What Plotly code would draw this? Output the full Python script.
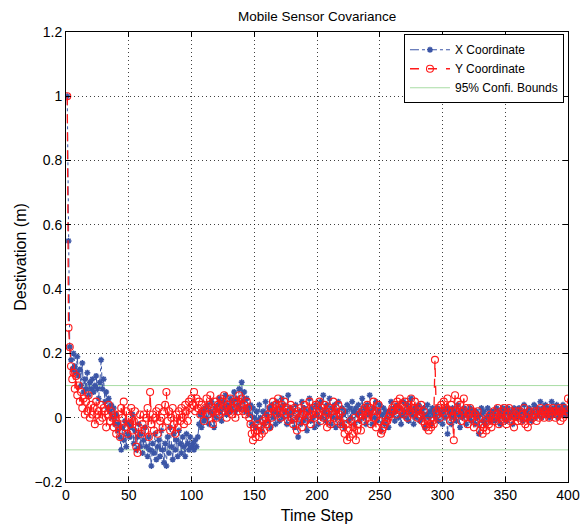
import plotly.graph_objects as go

time_steps = list(range(1, 401))

x_coord = [
    1.00, 0.55, 0.22, 0.18, 0.15, 0.20, 0.16, 0.14, 0.19, 0.13, 0.15, 0.10, 0.17, 0.08, 0.12, 0.09, 0.14, 0.07, 0.11, 0.09,
    0.12, 0.08, 0.10, 0.13, 0.09, 0.06, 0.11, 0.18, 0.09, 0.12, 0.05, 0.08, 0.03, 0.06, 0.02, 0.04, 0.00, 0.03, -0.02, 0.01,
    -0.04, -0.02, -0.06, -0.10, -0.03, -0.07, -0.01, -0.09, -0.05, -0.02, -0.06, -0.03, 0.01, -0.08, -0.04, -0.10, -0.06, -0.02, -0.09, -0.05,
    -0.11, -0.07, -0.03, -0.09, -0.12, -0.06, -0.10, -0.15, -0.08, -0.11, -0.05, -0.13, -0.09, -0.07, -0.12, -0.04, -0.10, -0.14, -0.08, -0.15,
    -0.06, -0.11, -0.03, -0.09, -0.13, -0.05, -0.10, -0.07, -0.12, -0.04, -0.08, -0.11, -0.06, -0.09, -0.12, -0.05, -0.08, -0.10, -0.06, -0.09,
    -0.08, -0.10, -0.07, -0.09, -0.06, -0.02, 0.01, -0.03, 0.02, -0.01, 0.03, 0.00, 0.04, -0.02, 0.02, 0.05, 0.01, -0.03, 0.03, 0.00,
    0.04, 0.06, 0.02, -0.01, 0.05, 0.03, 0.07, 0.01, 0.04, 0.02, 0.06, 0.03, 0.05, 0.08, 0.02, 0.06, 0.04, 0.09, 0.03, 0.11,
    0.05, 0.08, 0.02, 0.06, 0.03, 0.01, 0.04, -0.02, 0.03, 0.00, -0.03, 0.02, -0.01, 0.04, 0.00, -0.04, 0.02, -0.02, 0.05, 0.01,
    -0.01, 0.03, -0.03, 0.04, 0.00, 0.02, -0.02, 0.05, 0.01, -0.01, 0.03, 0.06, 0.00, 0.04, 0.02, -0.02, 0.07, 0.01, 0.03, -0.01,
    0.02, -0.03, 0.04, 0.00, -0.06, 0.02, -0.02, 0.05, -0.01, 0.03, 0.00, -0.04, 0.02, 0.06, -0.01, 0.03, 0.00, -0.03, 0.04, 0.01,
    -0.02, 0.03, 0.05, 0.00, 0.07, 0.02, -0.01, 0.04, 0.01, 0.06, -0.02, 0.03, 0.00, 0.04, -0.03, 0.02, 0.05, 0.00, -0.02, 0.03,
    0.01, -0.03, 0.02, 0.04, -0.01, 0.03, 0.00, 0.05, 0.02, -0.02, 0.03, 0.01, 0.04, -0.01, 0.02, 0.06, 0.00, 0.03, -0.02, 0.04,
    0.01, 0.07, 0.02, -0.02, 0.03, 0.00, 0.05, -0.01, 0.02, 0.04, -0.04, 0.01, 0.03, -0.02, 0.02, 0.00, -0.03, 0.02, 0.05, 0.01,
    0.03, -0.01, 0.02, 0.04, 0.00, 0.03, -0.02, 0.01, 0.05, 0.02, 0.00, 0.04, -0.01, 0.02, 0.06, 0.01, -0.02, 0.03, 0.00, 0.02,
    0.04, -0.01, 0.02, 0.00, 0.03, -0.03, 0.01, 0.04, 0.00, 0.02, -0.02, 0.03, 0.01, 0.02, 0.00, 0.03, -0.01, 0.02, 0.01, -0.02,
    0.02, 0.00, 0.03, -0.05, 0.02, 0.01, -0.02, 0.03, 0.00, 0.02, -0.01, 0.04, 0.01, -0.03, 0.02, 0.00, 0.03, 0.01, -0.02, 0.02,
    0.00, 0.03, -0.01, 0.02, 0.01, -0.02, 0.02, 0.00, -0.05, 0.01, 0.03, -0.01, 0.02, -0.02, 0.00, 0.03, 0.01, -0.01, 0.02, 0.00,
    0.02, -0.01, 0.03, 0.00, 0.02, -0.02, 0.01, 0.03, 0.00, 0.02, -0.01, 0.03, 0.01, 0.00, 0.02, -0.02, 0.03, 0.01, 0.00, 0.02,
    0.03, 0.00, 0.02, -0.01, 0.04, 0.01, 0.02, 0.00, 0.03, 0.01, -0.01, 0.02, 0.04, 0.00, 0.03, 0.01, 0.02, 0.05, 0.00, 0.03,
    0.02, 0.04, 0.01, 0.03, 0.00, 0.02, 0.05, 0.01, 0.03, 0.02, 0.04, 0.00, 0.03, 0.01, 0.02, 0.04, 0.01, 0.03, 0.02, 0.01,
]

y_coord = [
    1.00, 0.28, 0.22, 0.16, 0.12, 0.14, 0.09, 0.13, 0.07, 0.10, 0.05, 0.08, 0.03, 0.06, 0.01, 0.05, 0.02, 0.07, 0.00, 0.04,
    0.01, 0.03, -0.02, 0.05, 0.01, 0.02, -0.01, 0.04, 0.00, 0.03, 0.02, -0.03, 0.01, 0.04, -0.01, 0.02, 0.00, -0.03, 0.01, -0.05,
    -0.02, 0.01, -0.06, 0.03, 0.00, 0.05, -0.03, 0.02, -0.05, 0.00, -0.02, 0.03, -0.04, -0.01, 0.02, -0.09, -0.11, -0.03, 0.01, -0.05,
    -0.02, 0.01, -0.04, 0.00, 0.03, -0.06, 0.08, -0.02, 0.01, -0.04, 0.00, 0.02, -0.05, 0.03, -0.01, 0.00, -0.03, 0.02, 0.04, 0.08,
    -0.01, 0.02, -0.04, 0.00, 0.03, -0.02, -0.05, 0.01, -0.03, 0.02, -0.01, 0.03, 0.00, -0.02, 0.04, 0.02, -0.01, 0.05, 0.03, 0.06,
    0.04, 0.08, 0.02, 0.06, 0.03, 0.05, 0.01, 0.04, 0.02, -0.01, 0.03, 0.06, 0.01, 0.04, 0.07, 0.02, -0.02, 0.03, 0.05, 0.00,
    0.04, 0.01, 0.06, 0.02, 0.05, 0.07, 0.03, 0.00, 0.04, 0.02, 0.06, 0.01, 0.03, 0.05, 0.00, 0.04, 0.02, 0.07, 0.03, 0.06,
    0.02, 0.04, 0.01, 0.05, 0.03, 0.00, -0.02, -0.05, -0.07, -0.03, -0.06, -0.04, -0.02, -0.06, -0.03, -0.05, -0.01, -0.04, 0.00, -0.02,
    0.01, -0.03, 0.03, 0.00, 0.05, 0.02, 0.04, 0.01, 0.06, 0.03, 0.00, 0.04, 0.02, 0.05, 0.01, 0.03, -0.01, 0.02, 0.04, 0.00,
    -0.02, 0.03, 0.01, -0.04, 0.02, 0.00, 0.03, -0.03, 0.01, 0.04, -0.01, 0.02, 0.00, 0.05, -0.02, 0.01, 0.03, 0.00, 0.04, 0.02,
    0.01, 0.05, -0.01, 0.03, 0.00, 0.04, 0.02, -0.03, 0.01, 0.03, -0.02, 0.02, 0.05, 0.00, 0.03, -0.01, 0.04, 0.01, -0.02, 0.02,
    -0.03, -0.05, -0.02, -0.07, -0.04, -0.06, -0.01, -0.05, -0.03, 0.00, -0.07, -0.04, -0.02, 0.01, -0.04, 0.02, -0.01, 0.03, 0.00, 0.04,
    0.01, 0.03, -0.02, 0.02, 0.05, 0.00, -0.03, 0.02, 0.04, -0.01, -0.05, -0.04, -0.03, -0.02, -0.01, -0.01, 0.00, 0.01, 0.02, 0.03,
    0.02, 0.04, 0.01, 0.05, 0.03, 0.06, 0.02, 0.04, 0.01, 0.05, 0.03, 0.00, 0.04, 0.02, 0.06, 0.01, 0.03, 0.05, 0.02, 0.00,
    0.03, 0.01, 0.04, -0.01, 0.02, -0.02, -0.03, -0.01, -0.04, -0.02, -0.03, -0.01, -0.02, 0.18, 0.02, 0.01, 0.03, 0.00, 0.04, 0.02,
    0.05, 0.01, 0.03, 0.06, 0.02, -0.01, 0.04, 0.00, -0.07, 0.07, 0.02, 0.05, 0.01, 0.04, -0.01, 0.02, 0.06, 0.00, 0.03, -0.02,
    0.01, 0.03, 0.00, 0.02, -0.03, 0.01, -0.01, 0.02, 0.00, -0.04, -0.02, -0.05, -0.03, -0.01, -0.04, 0.00, -0.02, 0.01, -0.03, 0.00,
    0.02, -0.01, 0.01, 0.03, -0.02, 0.00, 0.02, -0.01, 0.03, 0.00, -0.02, 0.01, 0.03, -0.01, 0.02, 0.00, -0.03, 0.01, 0.02, -0.01,
    0.00, 0.02, -0.01, 0.01, 0.03, -0.02, 0.00, -0.03, 0.02, -0.01, 0.01, 0.00, 0.02, 0.01, -0.01, 0.02, 0.00, 0.03, 0.01, 0.02,
    0.00, 0.02, 0.01, 0.03, 0.00, 0.02, 0.01, 0.03, 0.02, 0.00, 0.02, 0.01, 0.03, -0.01, 0.02, 0.00, 0.03, 0.01, 0.02, 0.06,
]

bound_x = [0, 400]
bound_upper = [0.1, 0.1]
bound_lower = [-0.1, -0.1]

x_ticks = [0, 50, 100, 150, 200, 250, 300, 350, 400]
y_ticks = [-0.2, 0, 0.2, 0.4, 0.6, 0.8, 1, 1.2]

FONT = "Liberation Sans, Arial, Helvetica, sans-serif"
BLUE = "#3b55a6"
RED = "#ff1a1a"
GREEN = "#a8dca4"

fig = go.Figure()

fig.add_trace(go.Scatter(
    x=bound_x, y=bound_upper, mode="lines", name="95% Confi. Bounds",
    line=dict(color=GREEN, width=1), legendrank=3, showlegend=True,
))
fig.add_trace(go.Scatter(
    x=bound_x, y=bound_lower, mode="lines", name="95% Confi. Bounds",
    line=dict(color=GREEN, width=1), legendrank=4, showlegend=False,
))
fig.add_trace(go.Scatter(
    x=time_steps, y=x_coord, mode="lines+markers", name="X Coordinate",
    line=dict(color=BLUE, width=1, dash="dashdot"),
    marker=dict(symbol="asterisk-open", size=5, color=BLUE,
                line=dict(color=BLUE, width=1.5)),
    legendrank=1,
))
fig.add_trace(go.Scatter(
    x=time_steps, y=y_coord, mode="lines+markers", name="Y Coordinate",
    line=dict(color=RED, width=1.3, dash="dash"),
    marker=dict(symbol="circle-open", size=7, color=RED,
                line=dict(color=RED, width=1.1)),
    legendrank=2,
))

axis_common = dict(
    showline=True, linecolor="black", linewidth=1, mirror="ticks",
    ticks="inside", ticklen=5, tickcolor="black", automargin=False,
    showgrid=True, gridcolor="rgba(0,0,0,0.75)", griddash="1px,3px", gridwidth=0.8,
    zeroline=False, tickfont=dict(family=FONT, size=14, color="black"),
)

fig.update_layout(
    width=585, height=526,
    margin=dict(l=66, r=17, t=32, b=44),
    paper_bgcolor="white", plot_bgcolor="white",
    font=dict(family=FONT, color="black"),
    title=dict(text="Mobile Sensor Covariance", x=0.542, xanchor="center",
               y=0.969, yanchor="middle", font=dict(family=FONT, size=13.5)),
    showlegend=True,
    legend=dict(x=0.992, xanchor="right", y=0.995, yanchor="top",
                bgcolor="white", bordercolor="black", borderwidth=1,
                font=dict(family=FONT, size=12), tracegroupgap=0,
                itemwidth=40),
)
fig.update_xaxes(range=[0, 400], tickvals=x_ticks,
                 title=dict(text="Time Step", font=dict(family=FONT, size=16), standoff=8),
                 **axis_common)
fig.update_yaxes(range=[-0.2, 1.2], tickvals=y_ticks,
                 title=dict(text="Destivation (m)", font=dict(family=FONT, size=16), standoff=3),
                 **axis_common)

fig.write_html("out.html", config={"displayModeBar": False},
               post_script="document.body.style.margin='0px';")
